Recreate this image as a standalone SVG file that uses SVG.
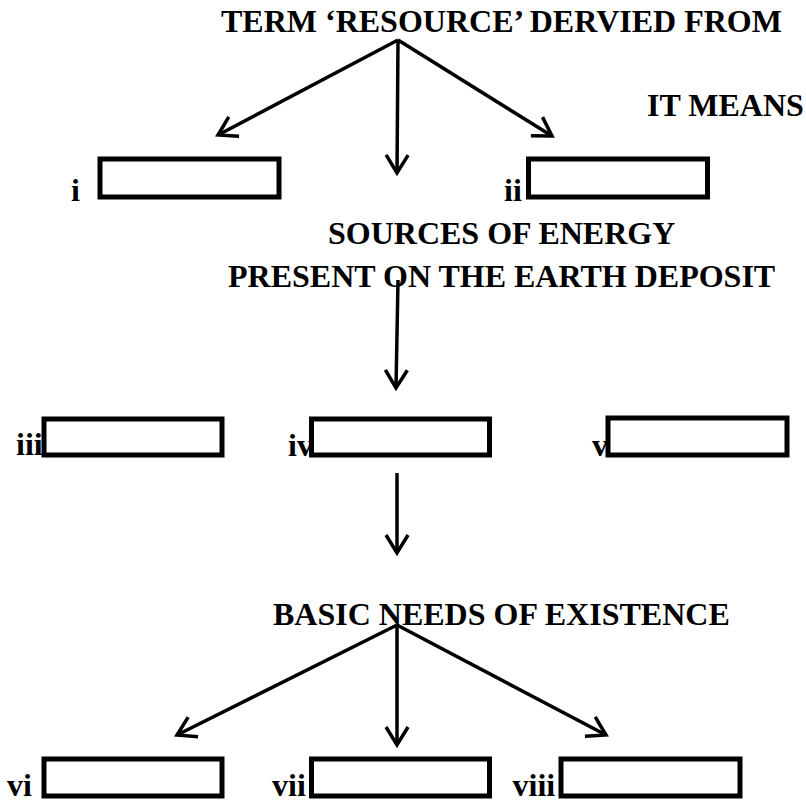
<svg xmlns="http://www.w3.org/2000/svg" width="806" height="805" viewBox="0 0 806 805">
<style>
text{font-family:"Liberation Serif","Times New Roman",serif;font-weight:bold;font-size:32px;fill:#000}
.box{fill:#fff;stroke:#000;stroke-width:5}
.con{fill:none;stroke:#000;stroke-width:3.5;marker-end:url(#ah)}
</style>
<defs>
<marker id="ah" markerUnits="userSpaceOnUse" viewBox="-24 -15 28 30" markerWidth="28" markerHeight="30" refX="0" refY="0" orient="auto">
<path d="M-18,-11 L0,0 L-18,11" fill="none" stroke="#000" stroke-width="3.5" stroke-linejoin="miter"/>
</marker>
</defs>
<rect width="806" height="805" fill="#fff"/>
<g id="title"><text x="221" y="32">TERM ‘RESOURCE’ DERVIED FROM</text></g>
<g id="it-means"><text x="647" y="116">IT MEANS</text></g>
<g id="node-i"><text x="71" y="201">i</text><rect class="box" x="100" y="159" width="179" height="38"/></g>
<g id="node-ii"><text x="504" y="201">ii</text><rect class="box" x="528.5" y="159" width="179" height="38"/></g>
<g id="sources"><text x="328" y="244">SOURCES OF ENERGY</text><text x="228" y="287">PRESENT ON THE EARTH DEPOSIT</text></g>
<g id="node-iii"><text x="16" y="455">iii</text><rect class="box" x="44" y="419" width="178" height="36"/></g>
<g id="node-iv"><text x="288" y="456">iv</text><rect class="box" x="311.5" y="419" width="178" height="36"/></g>
<g id="node-v"><text x="592" y="456">v</text><rect class="box" x="608" y="418" width="179" height="37"/></g>
<g id="basic-needs"><text x="273" y="625">BASIC NEEDS OF EXISTENCE</text></g>
<g id="node-vi"><text x="7" y="796">vi</text><rect class="box" x="44" y="759" width="178" height="37"/></g>
<g id="node-vii"><text x="272" y="796">vii</text><rect class="box" x="311.5" y="759" width="178" height="37"/></g>
<g id="node-viii"><text x="512.5" y="796">viii</text><rect class="box" x="561" y="759" width="179" height="37"/></g>
<g id="connectors">
<line class="con" x1="398" y1="40" x2="218" y2="135"/>
<line class="con" x1="398" y1="40" x2="397" y2="173"/>
<line class="con" x1="398" y1="40" x2="552" y2="136"/>
<line class="con" x1="398" y1="280" x2="396" y2="388"/>
<line class="con" x1="397" y1="473" x2="397" y2="553"/>
<line class="con" x1="397" y1="625" x2="177" y2="735"/>
<line class="con" x1="397" y1="625" x2="397" y2="745"/>
<line class="con" x1="397" y1="625" x2="606" y2="735"/>
</g>
</svg>
